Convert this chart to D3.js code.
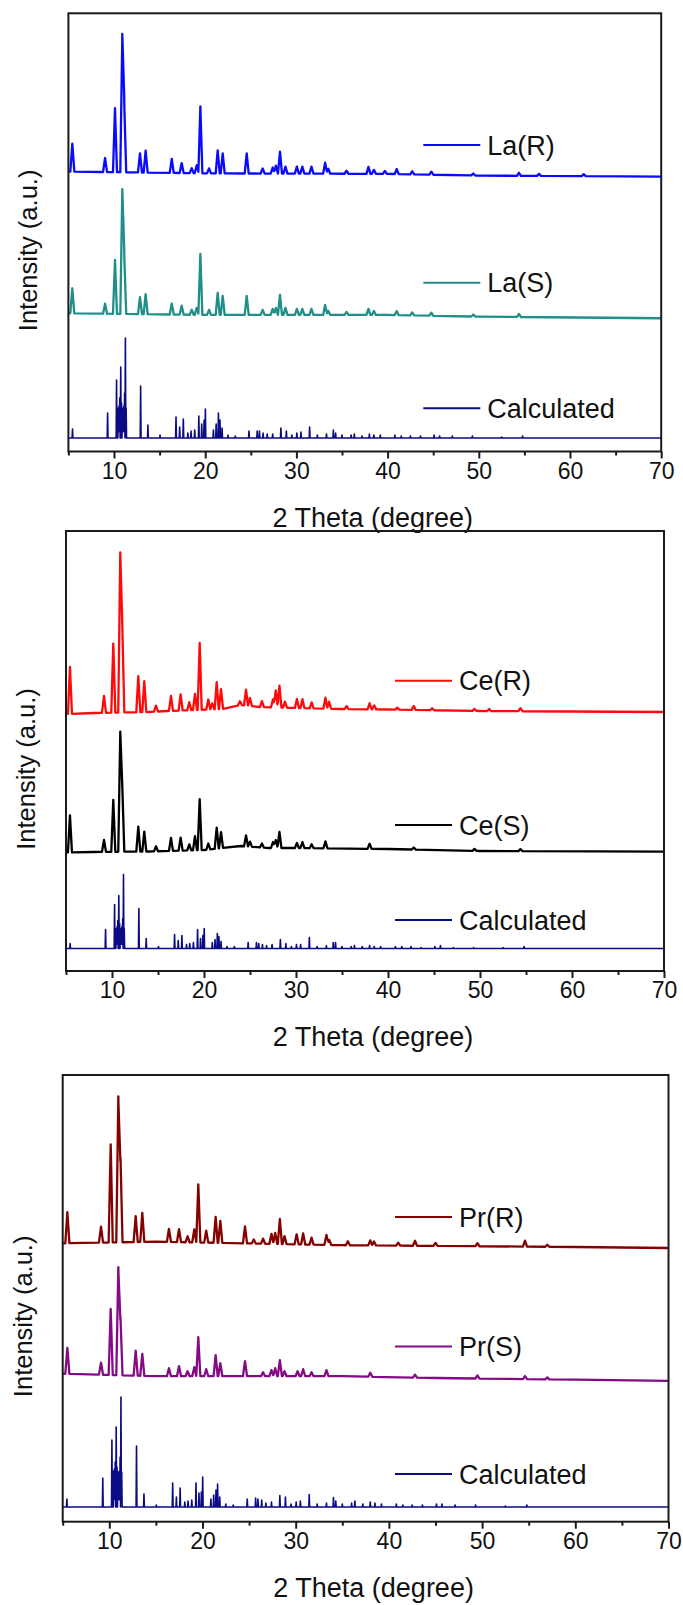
<!DOCTYPE html>
<html>
<head>
<meta charset="utf-8">
<script src="https://cdn.jsdelivr.net/npm/d3@7"></script>
<style>
  body { margin: 0; background: #fff; }
  text { font-family: "Liberation Sans", Arial, sans-serif; fill: #111; }
</style>
</head>
<body>
<script>
// x axis ticks (2 theta, degree)
const xMajorTicks = [10, 20, 30, 40, 50, 60, 70];
const xMinorTicks = [5, 15, 25, 35, 45, 55, 65];

// ---------- La panel ----------
// baselines: [2theta, intensity]
const laRBase = [[5, 279.8], [12, 279], [20, 278], [40, 277.5], [50, 275.8], [70, 274.8]];
const laSBase = [[5, 138.2], [20, 136.5], [40, 136.5], [50, 134.8], [70, 133.2]];
// peaks: [2theta, height above baseline]
const laRPeaks = [[5.43, 28], [9.02, 14], [10.11, 64], [10.91, 135], [11.12, 70], [12.85, 19], [13.47, 22],
  [16.33, 14], [17.42, 10], [18.52, 5], [19.07, 8], [19.47, 67], [20.42, 5], [21.37, 23], [21.92, 20],
  [24.55, 20], [26.3, 5], [27.4, 6], [27.75, 8], [28.2, 22], [28.8, 7], [30.05, 7], [30.65, 7], [31.65, 7],
  [33.15, 11], [33.5, 5], [35.5, 3], [37.9, 7], [38.5, 4], [39.7, 3], [41.0, 5], [42.7, 3], [44.8, 3],
  [49.4, 2], [54.4, 3], [56.6, 2], [61.5, 2]];
const laSPeaks = [[5.43, 25], [9.02, 10], [10.11, 54], [10.91, 122], [11.12, 60], [12.85, 17], [13.47, 20],
  [16.33, 11], [17.42, 9], [18.52, 5], [19.07, 7], [19.47, 61], [20.42, 5], [21.37, 22], [21.92, 19],
  [24.55, 19], [26.3, 5], [27.4, 6], [27.75, 7], [28.2, 20], [28.8, 7], [30.05, 6], [30.65, 6], [31.65, 6],
  [33.15, 10], [33.5, 4], [35.5, 3], [37.9, 6], [38.5, 4], [41.0, 4], [42.7, 3], [44.8, 3], [49.4, 2], [54.4, 3]];

// ---------- Ce panel ----------
const ceRBase = [[5, 257], [8, 258], [14, 259], [16, 260], [22, 262], [24, 266], [26, 264], [30, 263],
  [35, 262], [40, 261.5], [50, 260], [70, 259]];
const ceSBase = [[5, 118.5], [8, 119], [14, 119.5], [20, 121], [24, 125], [27, 123], [30, 123], [40, 122],
  [50, 120], [70, 119.4]];
const ceRPeaks = [[5.43, 47], [9.13, 17], [10.14, 69], [10.9, 160], [11.12, 87], [12.86, 36], [13.51, 31],
  [14.78, 6], [16.41, 15], [17.46, 16], [18.4, 8], [19.02, 16], [19.53, 67], [20.47, 10], [20.9, 6],
  [21.38, 27], [21.85, 20], [23.9, 4], [24.57, 16], [25.0, 8], [26.3, 6], [27.5, 8], [27.8, 17], [28.2, 22],
  [28.8, 6], [30.1, 9], [30.7, 9], [31.7, 6], [33.2, 11], [33.6, 7], [35.5, 3], [38.0, 6], [38.5, 4],
  [41.0, 2], [42.8, 4], [44.8, 2], [49.4, 2], [51.0, 2], [54.4, 3]];
const ceSPeaks = [[5.43, 37], [9.13, 12], [10.14, 52], [10.9, 120], [11.12, 65], [12.86, 25], [13.51, 20],
  [14.78, 5], [16.41, 13], [17.46, 13], [18.4, 6], [19.02, 14], [19.53, 51], [20.47, 6], [21.38, 21],
  [21.85, 16], [24.57, 11], [25.0, 5], [26.3, 4], [27.5, 6], [27.8, 8], [28.2, 16], [30.1, 5], [30.7, 6],
  [31.7, 4], [33.2, 7], [38.0, 5], [42.8, 2], [49.4, 2], [54.4, 2]];

// ---------- Pr panel ----------
const prRBase = [[5, 278.4], [15, 280], [25, 278.3], [35, 276.5], [45, 275.8], [60, 274.7], [70, 273.7]];
const prSBase = [[5, 148], [15, 145.5], [25, 145.5], [35, 145.5], [45, 143.7], [60, 142], [70, 140.9]];
const prRPeaks = [[5.5, 31], [9.11, 16], [10.15, 98], [10.97, 146], [11.2, 85], [12.83, 26], [13.54, 29],
  [16.4, 13], [17.48, 13], [18.4, 6], [19.12, 13], [19.55, 58], [20.4, 12], [21.41, 26], [21.91, 22],
  [24.56, 17], [25.5, 4], [26.5, 5], [27.4, 10], [27.8, 11], [28.3, 25], [28.8, 8], [30.1, 10], [30.8, 11],
  [31.7, 7], [33.3, 10], [33.6, 5], [35.6, 4], [38.0, 5], [38.4, 4], [41.0, 3], [42.8, 5], [45.0, 3],
  [49.5, 3], [54.6, 6], [57.0, 2]];
const prSPeaks = [[5.5, 26], [9.11, 12], [10.15, 66], [10.97, 108], [11.2, 58], [12.83, 25], [13.54, 22],
  [16.4, 8], [17.48, 10], [18.4, 5], [19.12, 9], [19.55, 39], [20.4, 7], [21.41, 21], [21.91, 13],
  [24.56, 15], [26.5, 4], [27.4, 6], [27.8, 8], [28.3, 16], [28.8, 5], [30.2, 5], [30.8, 7], [31.7, 4],
  [33.3, 6], [38.0, 4], [42.8, 3], [49.5, 3], [54.6, 3], [57.0, 2]];

// ---------- Calculated patterns ----------
const calcTwoTheta = [5.45, 9.3, 10.28, 10.38, 10.47, 10.55, 10.63, 10.74, 10.83, 10.92, 11.0, 11.08, 11.16,
  11.25, 11.33, 12.92, 13.72, 15.05, 16.8, 17.2, 17.6, 18.1, 18.45, 18.85, 19.3, 19.62, 19.88, 20.02, 20.9,
  21.2, 21.45, 21.62, 21.85, 22.5, 23.3, 24.8, 25.7, 25.95, 26.35, 26.8, 27.4, 28.3, 28.9, 29.5, 30.05, 30.5,
  31.45, 32.3, 33.3, 34.05, 34.3, 35.0, 36.0, 36.35, 37.2, 38.0, 38.5, 39.2, 40.8, 41.5, 42.5, 43.6, 45.1,
  45.7, 47.1, 49.3, 52.5, 54.8];
const laCalcHeights = [9, 25, 58, 30, 28, 32, 40, 71, 35, 30, 28, 32, 45, 100, 30, 52, 13, 3, 21, 11, 19, 5,
  7, 8, 22, 14, 18, 29, 8, 14, 25, 18, 10, 3, 2, 7, 7, 7, 5, 4, 4, 10, 7, 3, 5, 6, 11, 3, 4, 8, 5, 3, 3, 4,
  2, 4, 3, 3, 3, 2, 2, 2, 3, 2, 2, 2, 1, 2];
const ceCalcHeights = [5, 19, 44, 20, 19, 22, 28, 53, 25, 20, 19, 22, 30, 74, 20, 40, 10, 2, 14, 8, 13, 4,
  5, 6, 19, 10, 13, 20, 6, 9, 15, 12, 7, 2, 2, 6, 6, 5, 4, 3, 4, 9, 5, 2, 4, 4, 11, 2, 3, 6, 6, 2, 2, 3,
  2, 3, 2, 2, 2, 2, 2, 1, 2, 3, 1, 1, 1, 2];
const prCalcHeights = [8, 29, 67, 36, 33, 38, 45, 80, 40, 35, 33, 36, 50, 110, 35, 61, 13, 2, 24, 10, 19, 5,
  6, 7, 24, 14, 15, 30, 8, 12, 17, 23, 10, 3, 2, 8, 9, 8, 7, 4, 5, 11.5, 10, 3, 5, 6, 12.5, 3, 4, 9.5, 6, 3,
  4, 6, 3, 5, 4, 3, 3, 2, 2, 2, 3, 3, 2, 2, 1, 2];
const laCalcBase = [[5, 13.5], [70, 13.5]];
const ceCalcBase = [[5, 22.5], [70, 22.5]];
const prCalcBase = [[5, 14.7], [70, 14.7]];

// ---------- layout ----------
const W = 683, H = 1605;
const expHalfWidth = 0.22, calcHalfWidth = 0.045;

const zip = (xs, ys) => xs.map((x, i) => [x, ys[i]]);

const panels = [
  { left: 68.4, right: 661.2, top: 13.3, bottom: 451.5, yMax: 438, legendX: 423.3,
    series: [
      { name: "La(R)", color: "#0a0aff", base: laRBase, peaks: laRPeaks, hw: expHalfWidth, width: 2.3, ly: 145 },
      { name: "La(S)", color: "#1f8f88", base: laSBase, peaks: laSPeaks, hw: expHalfWidth, width: 2.3, ly: 282.7 },
      { name: "Calculated", color: "#0b0b85", base: laCalcBase, peaks: zip(calcTwoTheta, laCalcHeights), hw: calcHalfWidth, width: 1.6, ly: 408.3 }
    ] },
  { left: 66, right: 664, top: 531, bottom: 971, yMax: 440, legendX: 395,
    series: [
      { name: "Ce(R)", color: "#ff0a0a", base: ceRBase, peaks: ceRPeaks, hw: expHalfWidth, width: 2.3, ly: 680.8 },
      { name: "Ce(S)", color: "#000000", base: ceSBase, peaks: ceSPeaks, hw: expHalfWidth, width: 2.3, ly: 825 },
      { name: "Calculated", color: "#0b0b85", base: ceCalcBase, peaks: zip(calcTwoTheta, ceCalcHeights), hw: calcHalfWidth, width: 1.6, ly: 920 }
    ] },
  { left: 62.7, right: 668.5, top: 1075, bottom: 1521.7, yMax: 446.7, legendX: 395,
    series: [
      { name: "Pr(R)", color: "#850000", base: prRBase, peaks: prRPeaks, hw: expHalfWidth, width: 2.3, ly: 1217 },
      { name: "Pr(S)", color: "#850a85", base: prSBase, peaks: prSPeaks, hw: expHalfWidth, width: 2.3, ly: 1346.5 },
      { name: "Calculated", color: "#0b0b85", base: prCalcBase, peaks: zip(calcTwoTheta, prCalcHeights), hw: calcHalfWidth, width: 1.6, ly: 1474 }
    ] }
];

// baseline + triangular peak profiles, sampled at the peak feet and apexes
function buildTrace(base, peaks, hw) {
  const baseAt = d3.scaleLinear().domain(base.map(d => d[0])).range(base.map(d => d[1]));
  const xs = new Set([5, 70]);
  base.forEach(d => xs.add(d[0]));
  peaks.forEach(([p]) => { xs.add(p - hw); xs.add(p); xs.add(p + hw); });
  return Array.from(xs)
    .filter(x => x >= 5 && x <= 70)
    .sort((a, b) => a - b)
    .map(x => {
      let y = baseAt(x);
      peaks.forEach(([p, h]) => {
        const dist = Math.abs(x - p);
        if (dist < hw) y += h * (1 - dist / hw);
      });
      return [x, y];
    });
}

const svg = d3.select("body").append("svg")
  .attr("width", W)
  .attr("height", H);

svg.append("rect").attr("width", W).attr("height", H).attr("fill", "#fff");

panels.forEach(p => {
  const x = d3.scaleLinear().domain([5, 70]).range([p.left, p.right]);
  const y = d3.scaleLinear().domain([0, p.yMax]).range([p.bottom, p.top]);
  const g = svg.append("g");

  const line = d3.line().x(d => x(d[0])).y(d => y(d[1]));

  // traces
  p.series.forEach(s => {
    g.append("path")
      .datum(buildTrace(s.base, s.peaks, s.hw))
      .attr("fill", "none")
      .attr("stroke", s.color)
      .attr("stroke-width", s.width)
      .attr("stroke-linejoin", "round")
      .attr("d", line);
  });

  // frame
  g.append("rect")
    .attr("x", p.left).attr("y", p.top)
    .attr("width", p.right - p.left).attr("height", p.bottom - p.top)
    .attr("fill", "none")
    .attr("stroke", "#1a1a1a")
    .attr("stroke-width", 2);

  // x axis: major + minor ticks
  const major = g.append("g")
    .attr("transform", `translate(0,${p.bottom})`)
    .call(d3.axisBottom(x).tickValues(xMajorTicks).tickSize(7).tickSizeOuter(0).tickPadding(4).tickFormat(d3.format("d")));
  major.select(".domain").remove();
  major.selectAll(".tick line").attr("stroke", "#1a1a1a").attr("stroke-width", 2);
  major.selectAll(".tick text")
    .attr("font-size", 23)
    .attr("font-family", "'Liberation Sans', Arial, sans-serif")
    .attr("fill", "#111");

  const minor = g.append("g")
    .attr("transform", `translate(0,${p.bottom})`)
    .call(d3.axisBottom(x).tickValues(xMinorTicks).tickSize(4).tickSizeOuter(0).tickFormat(""));
  minor.select(".domain").remove();
  minor.selectAll(".tick line").attr("stroke", "#1a1a1a").attr("stroke-width", 2);

  // axis titles
  g.append("text")
    .attr("x", (p.left + p.right) / 2 + 8)
    .attr("y", p.bottom + 75)
    .attr("text-anchor", "middle")
    .attr("font-size", 27)
    .text("2 Theta (degree)");

  g.append("text")
    .attr("transform", `translate(${p.left - 31},${(p.top + p.bottom) / 2 + 18}) rotate(-90)`)
    .attr("text-anchor", "middle")
    .attr("font-size", 25.5)
    .text("Intensity (a.u.)");

  // legend
  p.series.forEach(s => {
    g.append("line")
      .attr("x1", p.legendX).attr("x2", p.legendX + 57)
      .attr("y1", s.ly).attr("y2", s.ly)
      .attr("stroke", s.color)
      .attr("stroke-width", 2);
    g.append("text")
      .attr("x", p.legendX + 64)
      .attr("y", s.ly + 9.5)
      .attr("font-size", 27)
      .text(s.name);
  });
});
</script>
</body>
</html>
